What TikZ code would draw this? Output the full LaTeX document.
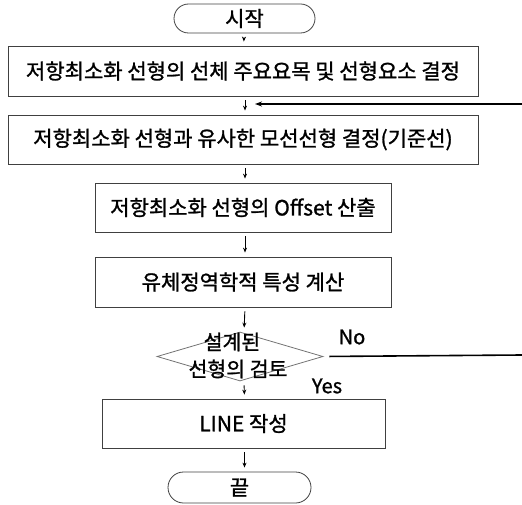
\documentclass[tikz,border=0pt]{standalone}
\usepackage{fontspec}
\setmainfont{Noto Sans CJK KR}[FakeBold=1.2]
\usetikzlibrary{arrows.meta,shapes.geometric,shapes.misc}
\begin{document}
\begin{tikzpicture}[x=1pt,y=-1pt,
  procbox/.style={draw=black!75,line width=0.8pt,rectangle,inner sep=0pt,font=\fontsize{21}{24}\selectfont},
  termbox/.style={draw=black!75,line width=0.8pt,rounded rectangle,inner sep=0pt,font=\fontsize{21}{24}\selectfont},
  decbox/.style={draw=black!55,line width=0.8pt,diamond,inner sep=0pt},
  flow/.style={line width=0.9pt,-{Stealth[length=5pt,width=4pt]},shorten <=4pt,shorten >=4pt},
  back/.style={line width=1.6pt},
  lbl/.style={inner sep=0pt,font=\fontsize{20}{24}\selectfont}]
\useasboundingbox (0,0) rectangle (522,505);
\node[termbox,minimum width=141pt,minimum height=29pt] (start) at (244.5,18.5) {시작};
\node[procbox,minimum width=470pt,minimum height=50pt] (b1) at (243,71) {저항최소화 선형의 선체 주요요목 및 선형요소 결정};
\node[procbox,minimum width=470pt,minimum height=49pt] (b2) at (243,139.5) {저항최소화 선형과 유사한 모선선형 결정(기준선)};
\node[procbox,minimum width=296pt,minimum height=49pt] (b3) at (243,207.5) {저항최소화 선형의 Offset 산출};
\node[procbox,minimum width=296pt,minimum height=50pt] (b4) at (243,282) {유체정역학적 특성 계산};
\node[decbox,minimum width=166pt,minimum height=49pt] (d) at (240,356.5) {};
\node[lbl,align=center,font=\fontsize{20.5}{27}\selectfont] (dt) at (238,355.5) {\hspace*{-12pt}설계된\\선형의 검토};
\node[procbox,minimum width=283pt,minimum height=49pt] (b5) at (243.5,423.5) {LINE 작성};
\node[termbox,minimum width=143pt,minimum height=31pt] (end) at (239.5,487.5) {끝};
\node[lbl] (no) at (352,337) {No};
\node[lbl] (yes) at (327,386) {Yes};
\coordinate (fbR) at (522,104);
\coordinate (fbL) at (255,104);
\coordinate (noR) at (522,355);
\draw[flow] (start) -- (b1);
\draw[flow] ([xshift=2pt]b1.south) -- ([xshift=2pt]b2.north);
\draw[flow] ([xshift=2pt]b2.south) -- ([xshift=2pt]b3.north);
\draw[flow] ([xshift=2pt]b3.south) -- ([xshift=2pt]b4.north);
\draw[flow] ([xshift=2pt]b4.south) -- ([xshift=4pt]d.north);
\draw[flow] ([xshift=4pt]d.south) -- ([xshift=1pt]b5.north);
\draw[flow] ([xshift=1pt]b5.south) -- ([xshift=5pt]end.north);
\draw[back,-{Stealth[length=7pt,width=5pt]}] (fbR) -- (fbL);
\draw[back,shorten <=6pt] (d.east) -- (noR);
\end{tikzpicture}
\end{document}
